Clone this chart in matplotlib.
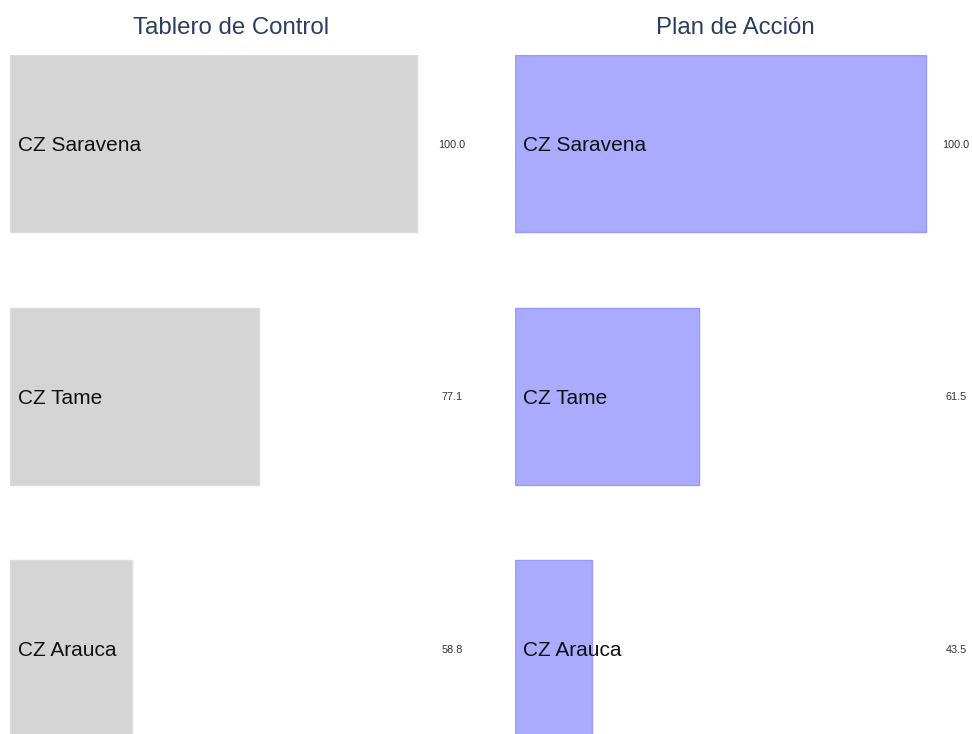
import matplotlib
matplotlib.use("Agg")
import matplotlib.pyplot as plt

# ── data ─────────────────────────────────────────────────────────────────────
categorias = ["CZ Saravena", "CZ Tame", "CZ Arauca"]
tablero    = [100.0, 77.1, 58.8]
plan       = [100.0, 61.5, 43.5]

plt.rcParams["font.family"] = ["Liberation Sans", "DejaVu Sans"]

W, H = 972, 734
fig = plt.figure(figsize=(W / 100, H / 100), dpi=100)
fig.patch.set_facecolor("white")

TITLE_COL = "#2a3f5f"


def _panel(left_px, right_px, valores, titulo, fill, edge):
    top_px, bot_px = 55, 734
    ax = fig.add_axes([left_px / W, 1 - bot_px / H,
                       (right_px - left_px) / W, (bot_px - top_px) / H])
    ypos = list(range(len(categorias)))
    xmin = 0.7 * min(valores)
    xmax = 1.05 * max(valores)
    ax.barh(ypos, [v - xmin for v in valores], left=xmin, height=0.7,
            color=fill, edgecolor=edge, linewidth=1.0)
    ax.set_xlim(xmin, xmax)
    ax.set_ylim(2.338, -0.351)
    for y, cat, v in zip(ypos, categorias, valores):
        ax.annotate(cat, xy=(xmin, y), xytext=(8, 0), textcoords="offset pixels",
                    ha="left", va="center_baseline", fontsize=15, color="#111111")
        ax.text(1.0, y, f"{v:.1f}", transform=ax.get_yaxis_transform(),
                ha="center", va="center_baseline", fontsize=7.8, color="#333333")
    ax.axis("off")
    fig.text((left_px + right_px) / 2 / W, 1 - 34 / H, titulo,
             ha="center", va="baseline", fontsize=17.3, color=TITLE_COL)
    return ax


_panel(10, 452, tablero, "Tablero de Control", "#d5d5d5", "#dcdcdc")
_panel(515, 956, plan, "Plan de Acción", "#aaaaff", "#9999ff")

fig.savefig("out.png", dpi=100)
